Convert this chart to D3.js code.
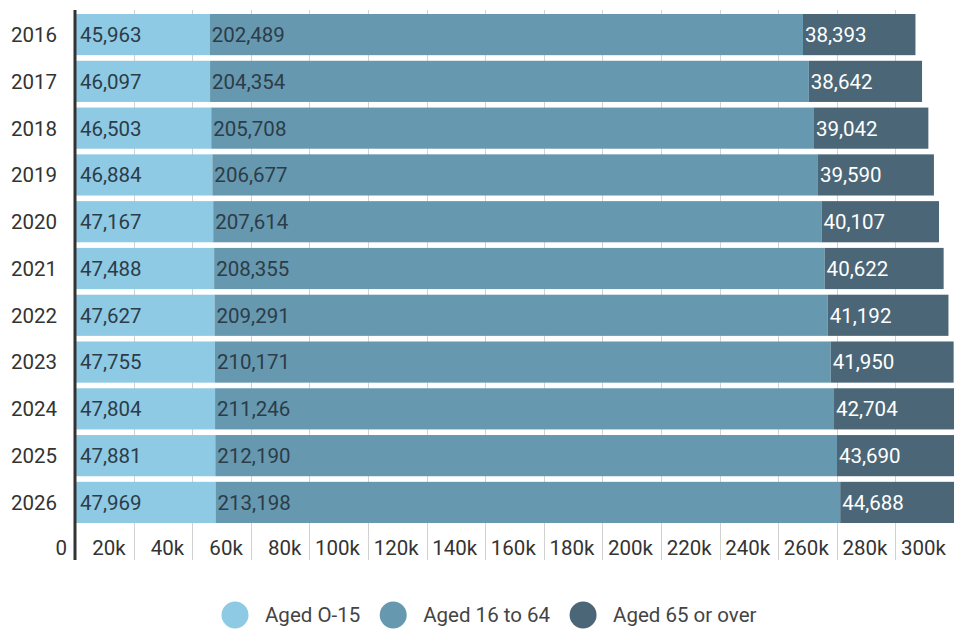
<!DOCTYPE html>
<html><head><meta charset="utf-8">
<script src="https://cdn.jsdelivr.net/npm/d3@7"></script>
<style>
body{margin:0;background:#fff;}
svg{display:block;font-family:Roboto, "Noto Sans", sans-serif;}
</style></head>
<body>
<svg id="chart" width="954" height="629"></svg>
<script>
const years = ["2016","2017","2018","2019","2020","2021","2022","2023","2024","2025","2026"];
const aged0to15 = [45963,46097,46503,46884,47167,47488,47627,47755,47804,47881,47969];
const aged16to64 = [202489,204354,205708,206677,207614,208355,209291,210171,211246,212190,213198];
const aged65plus = [38393,38642,39042,39590,40107,40622,41192,41950,42704,43690,44688];
const seriesNames = ["Aged O-15","Aged 16 to 64","Aged 65 or over"];
const seriesColors = ["#8ecae4","#6698af","#4b6777"];
const labelColors = ["#2c3c48","#2c3c48","#ffffff"];
const tickValues = [0,20000,40000,60000,80000,100000,120000,140000,160000,180000,200000,220000,240000,260000,280000,300000];
const tickLabels = ["0","20k","40k","60k","80k","100k","120k","140k","160k","180k","200k","220k","240k","260k","280k","300k"];

const FS = 20.5;
const svg = d3.select("#chart");
const x = d3.scaleLinear().domain([0,300000]).range([75,954]);
const y = d3.scaleBand().domain(years).range([14,523]).paddingInner(0.12).paddingOuter(0);

const stackData = years.map((yr,i)=>({year:yr,s0:aged0to15[i],s1:aged16to64[i],s2:aged65plus[i]}));
const stack = d3.stack().keys(["s0","s1","s2"])(stackData);

// gridlines
svg.append("g").selectAll("line").data(tickValues.slice(1)).join("line")
  .attr("x1",d=>Math.round(x(d))+0.5).attr("x2",d=>Math.round(x(d))+0.5)
  .attr("y1",10).attr("y2",560)
  .attr("stroke","#d2d2d2").attr("stroke-width",1);

// bars
const g = svg.append("g");
stack.forEach((layer,si)=>{
  g.append("g").selectAll("rect").data(layer).join("rect")
    .attr("x",d=>x(d[0])).attr("width",d=>x(d[1])-x(d[0]))
    .attr("y",d=>y(d.data.year)).attr("height",y.bandwidth())
    .attr("fill",seriesColors[si]);
  g.append("g").selectAll("text").data(layer).join("text")
    .attr("x",d=>x(d[0])+(si===0?5:2))
    .attr("y",d=>y(d.data.year)+y.bandwidth()/2)
    .attr("dy","0.36em")
    .attr("font-size",FS)
    .attr("fill",labelColors[si])
    .text(d=>d3.format(",")(d[1]-d[0]));
});

// axis line at 0
svg.append("line").attr("x1",x(0)).attr("x2",x(0)).attr("y1",10).attr("y2",560)
  .attr("stroke","#333").attr("stroke-width",3);

// year labels
svg.append("g").selectAll("text").data(years).join("text")
  .attr("x",57).attr("y",d=>y(d)+y.bandwidth()/2).attr("dy","0.36em")
  .attr("text-anchor","end").attr("font-size",FS).attr("fill","#333")
  .text(d=>d);

// x tick labels
svg.append("g").selectAll("text").data(tickValues).join("text")
  .attr("x",d=>x(d)-8).attr("y",555)
  .attr("text-anchor","end").attr("font-size",FS).attr("fill","#333")
  .text((d,i)=>tickLabels[i]);

// legend
const leg = svg.append("g");
let lx = 235;
seriesNames.forEach((name,i)=>{
  leg.append("circle").attr("cx",lx).attr("cy",615).attr("r",13.5).attr("fill",seriesColors[i]);
  const t = leg.append("text").attr("x",lx+30).attr("y",615).attr("dy","0.36em")
    .attr("font-size",FS).attr("fill","#444").text(name);
  lx = lx + 30 + t.node().getComputedTextLength() + 33;
});
</script>
</body></html>
